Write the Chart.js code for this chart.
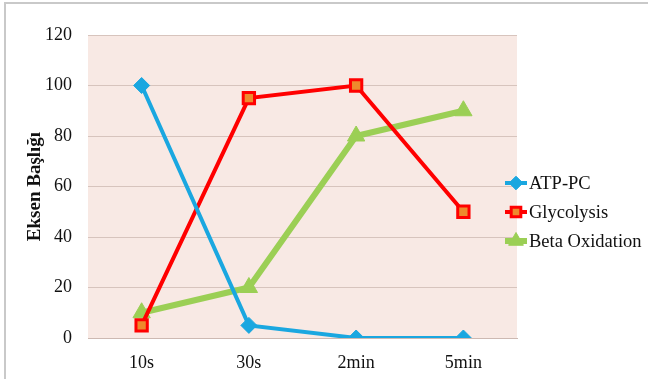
<!DOCTYPE html>
<html>
<head>
<meta charset="utf-8">
<script src="https://cdn.jsdelivr.net/npm/chart.js@4.4.1/dist/chart.umd.min.js"></script>
<style>
html,body{margin:0;padding:0;background:#fff;}
#wrap{width:648px;height:379px;position:relative;}
canvas{display:block;}
</style>
</head>
<body>
<div id="wrap"><canvas id="c" width="648" height="379"></canvas></div>
<script>
const categories = ["10s", "30s", "2min", "5min"];
const atpPc = [100, 5, 0, 0];
const glycolysis = [5, 95, 100, 50];
const betaOxidation = [10, 20, 80, 90];
const yTicks = [0, 20, 40, 60, 80, 100, 120];
const seriesNames = ["ATP-PC", "Glycolysis", "Beta Oxidation"];
const axisTitle = "Eksen Başlığı";

const FONT = "'Liberation Serif', 'DejaVu Serif', serif";

const frameAndBg = {
  id: 'frameAndBg',
  beforeDraw(chart) {
    const ctx = chart.ctx;
    ctx.save();
    ctx.fillStyle = '#ffffff';
    ctx.fillRect(0, 0, chart.width, chart.height);
    ctx.strokeStyle = '#c9c9c9';
    ctx.lineWidth = 2;
    ctx.beginPath();
    ctx.moveTo(5, chart.height);
    ctx.lineTo(5, 3);
    ctx.lineTo(chart.width, 3);
    ctx.stroke();
    const a = chart.chartArea;
    ctx.fillStyle = '#f8e9e4';
    ctx.fillRect(a.left, a.top, a.right - a.left, a.bottom - a.top);
    ctx.restore();
  }
};

const customLegend = {
  id: 'customLegend',
  afterDraw(chart) {
    const ctx = chart.ctx;
    const x0 = 505, x1 = 527, tx = 529;
    const ys = [183, 212, 241];
    ctx.save();
    chart.data.datasets.forEach((ds, i) => {
      const y = ys[i];
      ctx.strokeStyle = ds.borderColor;
      ctx.lineWidth = ds.borderWidth;
      ctx.beginPath();
      ctx.moveTo(x0, y);
      ctx.lineTo(x1, y);
      ctx.stroke();
      ctx.fillStyle = ds.pointBackgroundColor;
      ctx.strokeStyle = ds.pointBorderColor;
      ctx.lineWidth = ds.pointBorderWidth;
      Chart.helpers.drawPoint(ctx, {
        pointStyle: ds.pointStyle,
        rotation: 0,
        radius: ds.pointRadius * 0.85,
        borderWidth: ds.pointBorderWidth
      }, (x0 + x1) / 2, y);
      ctx.fillStyle = '#111';
      ctx.font = "18.5px " + FONT;
      ctx.textBaseline = 'middle';
      ctx.textAlign = 'left';
      ctx.fillText(ds.label, tx, y + 1);
    });
    ctx.restore();
  }
};

new Chart(document.getElementById('c'), {
  type: 'line',
  data: {
    labels: categories,
    datasets: [
      {
        label: seriesNames[0], data: atpPc,
        borderColor: '#1aa7e0', borderWidth: 4,
        pointStyle: 'rectRot', pointRadius: 8, pointHoverRadius: 8,
        pointBackgroundColor: '#1aa7e0', pointBorderColor: '#1aa7e0', pointBorderWidth: 1,
        tension: 0
      },
      {
        label: seriesNames[1], data: glycolysis,
        borderColor: '#ff0000', borderWidth: 4,
        pointStyle: 'rect', pointRadius: 8, pointHoverRadius: 8,
        pointBackgroundColor: '#ee8a2c', pointBorderColor: '#ff0000', pointBorderWidth: 3,
        tension: 0
      },
      {
        label: seriesNames[2], data: betaOxidation,
        borderColor: '#9bcf55', borderWidth: 6,
        pointStyle: 'triangle', pointRadius: 10, pointHoverRadius: 10,
        pointBackgroundColor: '#9bcf55', pointBorderColor: '#9bcf55', pointBorderWidth: 1,
        tension: 0
      }
    ]
  },
  options: {
    responsive: false,
    animation: false,
    events: [],
    layout: { padding: { left: 0, top: 35, right: 131, bottom: 0 } },
    plugins: { legend: { display: false }, tooltip: { enabled: false } },
    scales: {
      x: {
        offset: true,
        grid: { display: false, drawTicks: false },
        border: { display: true, color: '#cdb9b2', width: 1 },
        ticks: { font: { family: FONT, size: 18 }, color: '#111', padding: 14 },
        afterFit(s) { s.height = 41; }
      },
      y: {
        min: 0, max: 120,
        afterBuildTicks(s) { s.ticks = yTicks.map(v => ({ value: v })); },
        grid: { color: '#d7c4bd', lineWidth: 1, drawTicks: false },
        border: { display: false },
        ticks: { font: { family: FONT, size: 18 }, color: '#111', padding: 16 },
        title: {
          display: true, text: axisTitle,
          font: { family: FONT, size: 19, weight: 'bold' }, color: '#111',
          padding: { top: 24, bottom: 0 }
        },
        afterFit(s) { s.width = 88; }
      }
    }
  },
  plugins: [frameAndBg, customLegend]
});
</script>
</body>
</html>
